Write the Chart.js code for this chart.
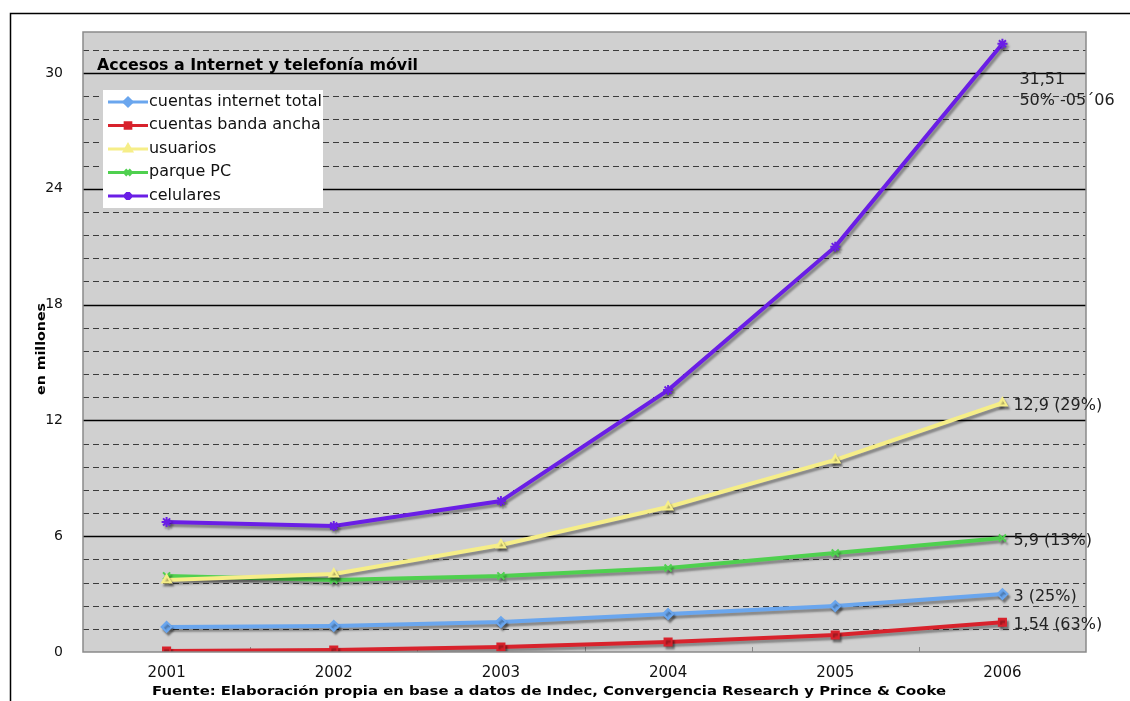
<!DOCTYPE html>
<html>
<head>
<meta charset="utf-8">
<script src="https://cdn.jsdelivr.net/npm/chart.js@4.4.1/dist/chart.umd.min.js"></script>
<style>
  html, body { margin: 0; padding: 0; background: #fff; }
  #wrap { width: 1130px; height: 701px; position: relative; }
</style>
</head>
<body>
<div id="wrap"><canvas id="chart"></canvas></div>
<script>
// datos
const years = ['2001', '2002', '2003', '2004', '2005', '2006'];
const internetTotal = [1.3, 1.35, 1.55, 1.97, 2.38, 3];
const bandaAncha   = [0.05, 0.1, 0.26, 0.52, 0.88, 1.54];
const usuarios     = [3.73, 4.04, 5.54, 7.51, 9.95, 12.9];
const parquePC     = [3.94, 3.73, 3.94, 4.35, 5.13, 5.9];
const celulares    = [6.74, 6.53, 7.82, 13.57, 21.0, 31.51];

const seriesNames  = ['cuentas internet total', 'cuentas banda ancha', 'usuarios', 'parque PC', 'celulares'];
const seriesColors = ['#6aa6ee', '#d8222c', '#f6ee88', '#4fd04f', '#6a1ee6'];
const seriesPoints = ['rectRot', 'rect', 'triangle', 'crossRot', 'star'];
const endLabels    = [['3 (25%)'], ['1,54 (63%)'], ['12,9 (29%)'], ['5,9 (13%)'], ['31,51', '50% -05\u00b406']];

const yMax = 32.12;
const yStep = 1.2;

const FONT = '"DejaVu Sans", Verdana, sans-serif';

// texto con escala horizontal
function scaledText(ctx, txt, x, y, sx) {
  ctx.save();
  ctx.translate(x, y);
  ctx.scale(sx, 1);
  ctx.fillText(txt, 0, 0);
  ctx.restore();
}
function fitText(ctx, txt, x, y, w) {
  scaledText(ctx, txt, x, y, w / ctx.measureText(txt).width);
}

// ==========================
// PLUGINS
// ==========================
const backdrop = {
  id: 'backdrop',
  beforeDraw(chart) {
    const { ctx, chartArea: a, scales } = chart;
    ctx.save();
    // marco exterior
    ctx.strokeStyle = '#000';
    ctx.lineWidth = 1.5;
    ctx.beginPath();
    ctx.moveTo(10.5, 701);
    ctx.lineTo(10.5, 13.5);
    ctx.lineTo(1130, 13.5);
    ctx.stroke();
    // fondo gris del área
    ctx.fillStyle = '#d0d0d0';
    ctx.fillRect(a.left, a.top, a.right - a.left, a.bottom - a.top);

    // líneas de la grilla
    scales.y.ticks.forEach((t, i) => {
      if (i === 0) return;
      const y = Math.round(scales.y.getPixelForValue(t.value)) + 0.5;
      ctx.beginPath();
      if (i % 5 === 0) {
        ctx.setLineDash([]);
        ctx.strokeStyle = '#000';
        ctx.lineWidth = 1.5;
      } else {
        ctx.setLineDash([6, 4]);
        ctx.strokeStyle = '#3c3c3c';
        ctx.lineWidth = 1;
      }
      ctx.moveTo(a.left, y);
      ctx.lineTo(a.right, y);
      ctx.stroke();
    });
    ctx.setLineDash([]);

    // pequeñas marcas entre categorías
    ctx.strokeStyle = '#888';
    ctx.lineWidth = 1;
    for (let i = 1; i < years.length; i++) {
      const x = Math.round((scales.x.getPixelForValue(i - 1) + scales.x.getPixelForValue(i)) / 2) + 0.5;
      ctx.beginPath();
      ctx.moveTo(x, a.bottom);
      ctx.lineTo(x, a.bottom - 5);
      ctx.stroke();
    }
    ctx.restore();
  },
  beforeDatasetsDraw(chart) {
    const ctx = chart.ctx;
    ctx.save();
    ctx.shadowColor = 'rgba(0,0,0,0.35)';
    ctx.shadowOffsetX = 2;
    ctx.shadowOffsetY = 3;
    ctx.shadowBlur = 2;
  },
  afterDatasetsDraw(chart) {
    chart.ctx.restore();
  },
  afterDraw(chart) {
    const { ctx, chartArea: a, scales } = chart;
    ctx.save();
    // borde del área
    ctx.strokeStyle = '#8a8a8a';
    ctx.lineWidth = 1.5;
    ctx.strokeRect(a.left, a.top, a.right - a.left, a.bottom - a.top);

    // título
    ctx.fillStyle = '#000';
    ctx.font = 'bold 16px ' + FONT;
    ctx.textBaseline = 'alphabetic';
    ctx.textAlign = 'left';
    fitText(ctx, 'Accesos a Internet y telefonía móvil', 97, 70, 321);

    // título eje y
    ctx.save();
    ctx.translate(42, 349);
    ctx.rotate(-Math.PI / 2);
    ctx.textAlign = 'left';
    ctx.textBaseline = 'middle';
    ctx.font = 'bold 12px ' + FONT;
    fitText(ctx, 'en millones', -46, 0, 92);
    ctx.restore();

    // fuente
    ctx.font = 'bold 12.5px ' + FONT;
    ctx.textAlign = 'left';
    fitText(ctx, 'Fuente: Elaboración propia en base a datos de Indec, Convergencia Research y Prince & Cooke', 152, 695, 794);

    // leyenda
    const lx = 103, ly = 90, lw = 220, lh = 118;
    ctx.fillStyle = '#fff';
    ctx.fillRect(lx, ly, lw, lh);
    ctx.font = '15px ' + FONT;
    ctx.textAlign = 'left';
    ctx.textBaseline = 'middle';
    const legScale = 173 / ctx.measureText(seriesNames[0]).width;
    chart.data.datasets.forEach((ds, i) => {
      const y = ly + 12 + i * 23.5;
      ctx.strokeStyle = ds.borderColor;
      ctx.lineWidth = 3;
      ctx.beginPath();
      ctx.moveTo(lx + 5, y);
      ctx.lineTo(lx + 45, y);
      ctx.stroke();
      ctx.fillStyle = ds.borderColor;
      ctx.strokeStyle = ds.borderColor;
      Chart.helpers.drawPoint(ctx, {
        pointStyle: ds.pointStyle, radius: 4, rotation: 0, borderWidth: 2
      }, lx + 25, y);
      ctx.fillStyle = '#111';
      scaledText(ctx, ds.label, lx + 46, y, legScale);
    });

    // etiquetas finales
    ctx.fillStyle = '#222';
    ctx.font = '16px ' + FONT;
    ctx.textBaseline = 'middle';
    const last = years.length - 1;
    chart.data.datasets.forEach((ds, i) => {
      const px = scales.x.getPixelForValue(last);
      const py = scales.y.getPixelForValue(ds.data[last]);
      const lines = endLabels[i];
      if (lines.length > 1) {
        lines.forEach((t, k) => ctx.fillText(t, px + 17, py + 36 + k * 21));
      } else {
        ctx.fillText(lines[0], px + 11, py + 3);
      }
    });
    ctx.restore();
  }
};

// ==========================
// GRÁFICO
// ==========================
const mk = (i, data) => ({
  label: seriesNames[i],
  data,
  borderColor: seriesColors[i],
  backgroundColor: seriesColors[i],
  pointStyle: seriesPoints[i],
  pointRadius: 5,
  pointBorderWidth: 2,
  borderWidth: 4,
  tension: 0,
  fill: false
});

new Chart(document.getElementById('chart'), {
  type: 'line',
  data: {
    labels: years,
    datasets: [
      mk(0, internetTotal),
      mk(1, bandaAncha),
      mk(2, usuarios),
      mk(3, parquePC),
      mk(4, celulares)
    ]
  },
  options: {
    responsive: true,
    maintainAspectRatio: false,
    animation: false,
    layout: { padding: { left: 0, right: 44, top: 32, bottom: 0 } },
    plugins: {
      legend: { display: false },
      tooltip: { enabled: false }
    },
    scales: {
      x: {
        offset: true,
        grid: { display: false, drawTicks: false },
        border: { display: false },
        ticks: { color: '#111', font: { family: FONT, size: 15 }, padding: 12 },
        afterFit(s) { s.height = 49; }
      },
      y: {
        min: 0,
        max: yMax,
        afterBuildTicks(s) {
          const t = [];
          for (let i = 0; i * yStep <= yMax + 1e-6; i++) t.push({ value: +(i * yStep).toFixed(2) });
          s.ticks = t;
        },
        grid: { display: false, drawTicks: false },
        border: { display: false },
        ticks: {
          color: '#111',
          font: { family: FONT, size: 14 },
          padding: 20,
          callback: (v, i) => (i % 5 === 0 ? String(Math.round(v)) : '')
        },
        afterFit(s) { s.width = 83; }
      }
    }
  },
  plugins: [backdrop]
});
</script>
</body>
</html>
